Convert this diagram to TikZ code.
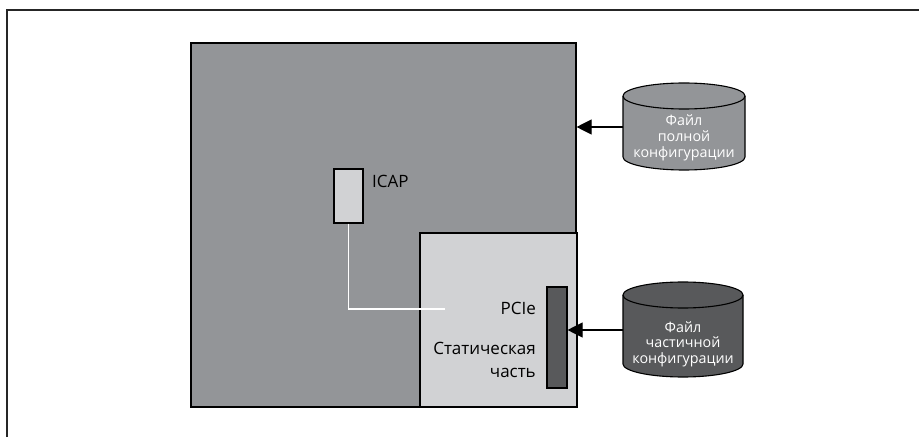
\documentclass[tikz,border=0pt]{standalone}
\usepackage{fontspec}
\setmainfont{Open Sans}
\usetikzlibrary{arrows.meta}
\definecolor{midgray}{RGB}{147,149,152}
\definecolor{lightgray2}{RGB}{209,210,212}
\definecolor{darkgray2}{RGB}{88,89,91}
\begin{document}
\begin{tikzpicture}[x=1pt,y=1pt,
  box/.style={draw=black,line width=1.1pt,inner sep=0pt,rectangle},
  lbl/.style={inner sep=0pt,font=\fontsize{17}{19}\selectfont,text=black},
  cyltext/.style={inner sep=0pt,align=center,text=white,font=\fontsize{14.3}{16}\selectfont},
  arr/.style={line width=1.1pt,-{Triangle[length=15pt,width=15pt]}},
  cylline/.style={draw=black,line width=1.1pt}]
\useasboundingbox (0,0) rectangle (919,437);
\fill[white] (0,0) rectangle (919,437);
% frame (top and left)
\draw[line width=1.6pt,black!85] (7,0) -- (7,427) -- (919,427);
% main blocks
\node[box,fill=midgray,minimum width=385pt,minimum height=364pt] (big) at (383.5,212) {};
\node[box,fill=lightgray2,minimum width=157pt,minimum height=174pt] (stat) at (498.5,117) {};
\node[box,fill=darkgray2,minimum width=20pt,minimum height=101pt] (bar) at (557,99.5) {};
\node[box,fill=lightgray2,minimum width=29pt,minimum height=54pt] (icap) at (348.5,241) {};
% labels
\node[lbl,anchor=base west] (icapl) at (372,249) {ICAP};
\node[lbl,anchor=base east] (pcie) at (536,122) {PCIe};
\node[lbl,anchor=base east] (st1) at (536,82) {Статическая};
\node[lbl,anchor=base east] (st2) at (536,60) {часть};
% white connection
\coordinate (wend) at (445,128);
\draw[white,line width=1.2pt] (icap.south) |- (wend);
% cylinder 1
\filldraw[cylline,fill=midgray] (623,341) -- (623,280) arc (180:360:61 and 13) -- (745,341) arc (0:180:61 and 13) -- cycle;
\draw[cylline] (623,341) arc (180:360:61 and 13);
\node[cyltext,anchor=base] (f1a) at (684,311) {Файл};
\node[cyltext,anchor=base] (f1b) at (684,295) {полной};
\node[cyltext,anchor=base] (f1c) at (684,279) {конфигурации};
\coordinate (c1w) at (623,310);
% cylinder 2
\filldraw[cylline,fill=darkgray2] (623,142) -- (623,73) arc (180:360:60 and 13) -- (743,142) arc (0:180:60 and 13) -- cycle;
\draw[cylline] (623,142) arc (180:360:60 and 13);
\node[cyltext,anchor=base] (f2a) at (683,105) {Файл};
\node[cyltext,anchor=base] (f2b) at (683,89) {частичной};
\node[cyltext,anchor=base] (f2c) at (683,74) {конфигурации};
\coordinate (c2w) at (623,107);
% arrows
\draw[arr] (c1w) -- (big.east |- c1w);
\draw[arr] (c2w) -- (bar.east |- c2w);
\end{tikzpicture}
\end{document}
